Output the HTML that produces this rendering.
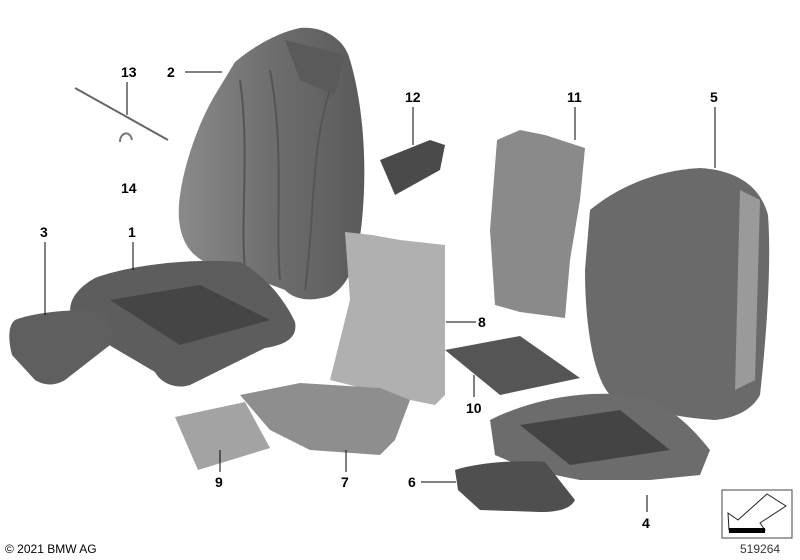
<!DOCTYPE html>
<html><head><style>
html,body{margin:0;padding:0;background:#fff;}
svg{display:block}
text{font-family:"Liberation Sans",sans-serif;font-weight:bold;font-size:14px;fill:#000}
</style></head><body>
<svg width="800" height="560" viewBox="0 0 800 560" xmlns="http://www.w3.org/2000/svg">
<defs>
<linearGradient id="gb" x1="0" y1="0" x2="1" y2="0">
<stop offset="0" stop-color="#8a8a8a"/><stop offset="0.5" stop-color="#6e6e6e"/><stop offset="1" stop-color="#5a5a5a"/>
</linearGradient>
</defs>
<!-- part 2 backrest -->
<path d="M235,62 C255,45 280,32 300,28 C325,26 345,40 350,60 C362,100 368,160 362,220 C358,260 350,285 330,296 C310,302 295,300 285,290 C260,280 230,272 205,262 C185,252 175,230 180,195 C185,160 200,120 215,95 Z" fill="url(#gb)"/>
<path d="M285,40 L345,55 L335,95 L300,80 Z" fill="#5a5a5a"/>
<path d="M240,80 C250,150 240,220 245,270" stroke="#555" stroke-width="2" fill="none"/>
<path d="M270,70 C285,150 275,220 280,280" stroke="#555" stroke-width="2" fill="none"/>
<path d="M330,90 C310,150 315,220 305,290" stroke="#555" stroke-width="2" fill="none"/>
<!-- part 1 seat cushion -->
<path d="M95,278 C130,265 190,258 240,262 C265,275 285,300 295,322 C298,338 285,345 265,348 L190,385 C175,390 160,382 155,372 L75,325 C65,310 70,292 95,278 Z" fill="#5d5d5d"/>
<path d="M110,300 L200,285 L270,320 L180,345 Z" fill="#454545"/>
<!-- part 3 -->
<path d="M15,320 C35,312 80,308 100,312 C112,318 115,330 110,345 L65,380 C55,386 45,386 35,380 L12,355 C8,340 8,325 15,320 Z" fill="#5f5f5f"/>
<!-- part 12 -->
<path d="M380,160 L430,140 L445,145 L440,170 L395,195 Z" fill="#4a4a4a"/>
<!-- part 8 light mat -->
<path d="M345,232 L372,235 L400,240 L445,245 L445,395 L435,405 L410,400 L330,380 L350,300 Z" fill="#b0b0b0"/>
<!-- part 7 -->
<path d="M240,395 L300,383 L380,388 L410,400 L395,440 L380,455 L310,450 L270,430 Z" fill="#8e8e8e"/>
<!-- part 9 -->
<path d="M175,417 L245,402 L270,448 L198,470 Z" fill="#a3a3a3"/>
<!-- part 11 -->
<path d="M497,140 L520,130 L545,135 L585,148 L580,200 L570,260 L565,318 L520,312 L495,305 L490,230 Z" fill="#8a8a8a"/>
<!-- part 5 -->
<path d="M590,210 C620,185 660,170 700,168 C735,170 760,185 768,215 C772,270 765,350 760,395 C752,410 735,418 715,420 C680,418 640,410 610,395 C592,375 585,320 585,270 Z" fill="#6a6a6a"/>
<path d="M740,190 L760,200 L755,380 L735,390 Z" fill="#9a9a9a"/>
<!-- part 10 -->
<path d="M445,350 L520,336 L580,378 L500,395 Z" fill="#555"/>
<!-- part 4 seat frame -->
<path d="M490,420 C530,400 580,390 630,395 C665,400 690,425 710,450 L700,475 L650,480 L580,480 L530,470 L495,455 Z" fill="#6c6c6c"/>
<path d="M520,425 L620,410 L670,450 L570,465 Z" fill="#444"/>
<!-- part 6 -->
<path d="M455,470 C480,462 520,460 545,462 L575,500 C570,510 555,512 540,512 L480,510 L458,490 Z" fill="#4f4f4f"/>
<!-- part 13 & 14 -->
<path d="M75,88 L168,140" stroke="#666" stroke-width="2"/>
<path d="M120,142 C120,132 130,130 132,140" stroke="#777" stroke-width="2" fill="none"/>
<!-- leader lines -->
<g stroke="#000" stroke-width="1">
<line x1="127" y1="82" x2="127" y2="115"/>
<line x1="185" y1="72" x2="222" y2="72"/>
<line x1="413" y1="107" x2="413" y2="145"/>
<line x1="575" y1="107" x2="575" y2="140"/>
<line x1="715" y1="107" x2="715" y2="168"/>
<line x1="45" y1="242" x2="45" y2="315"/>
<line x1="133" y1="242" x2="133" y2="270"/>
<line x1="446" y1="322" x2="476" y2="322"/>
<line x1="474" y1="375" x2="474" y2="397"/>
<line x1="220" y1="450" x2="220" y2="472"/>
<line x1="346" y1="450" x2="346" y2="472"/>
<line x1="421" y1="482" x2="456" y2="482"/>
<line x1="647" y1="495" x2="647" y2="512"/>
</g>
<text x="121" y="77">13</text>
<text x="167" y="77">2</text>
<text x="405" y="102">12</text>
<text x="567" y="102">11</text>
<text x="710" y="102">5</text>
<text x="40" y="237">3</text>
<text x="128" y="237">1</text>
<text x="478" y="327">8</text>
<text x="466" y="413">10</text>
<text x="121" y="193">14</text>
<text x="215" y="487">9</text>
<text x="341" y="487">7</text>
<text x="408" y="487">6</text>
<text x="642" y="528">4</text>
<text x="5" y="553" style="font-weight:normal;font-size:12px">© 2021 BMW AG</text>
<text x="740" y="553" style="font-weight:normal;font-size:12px;fill:#333">519264</text>
<rect x="722" y="490" width="70" height="48" fill="#fff" stroke="#444" stroke-width="1"/>
<path d="M728,513 L738,520 L767,494 L786,506 L760,523 L765,530 L729,530 Z" fill="#fff" stroke="#222" stroke-width="1"/>
<rect x="729" y="528" width="36" height="5" fill="#000"/>
</svg>
</body></html>
